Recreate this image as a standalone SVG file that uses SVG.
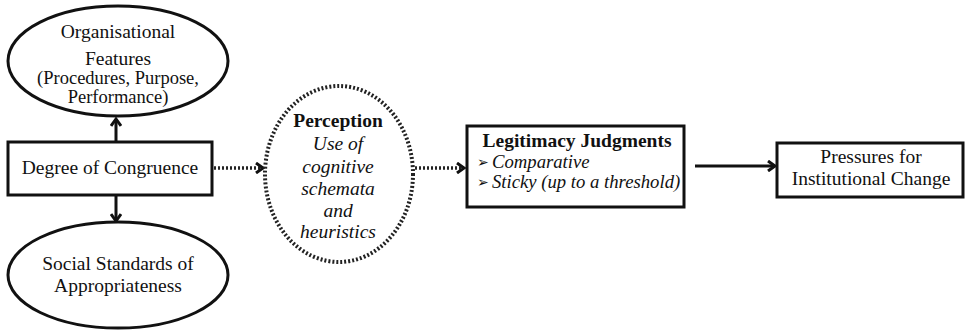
<svg xmlns="http://www.w3.org/2000/svg" width="966" height="331" viewBox="0 0 966 331">
<defs>
<marker id="arr" markerWidth="12" markerHeight="12" refX="9" refY="6" orient="auto" markerUnits="userSpaceOnUse">
<path d="M2,1 L9,6 L2,11" fill="none" stroke="#111" stroke-width="3" stroke-linejoin="miter"/>
</marker>
</defs>
<style>
text{font-family:"Liberation Serif","Times New Roman",serif;fill:#111;text-anchor:middle;font-size:19.5px}
.sm{font-size:18.5px}
.it{font-style:italic}
.b{font-weight:bold}
.li{font-style:italic;font-size:18.7px;text-anchor:start}
.shape{fill:#fff;stroke:#111;stroke-width:3}
.dot{fill:#fff;stroke:#222;stroke-width:4;stroke-dasharray:2 2}
.con{fill:none;stroke:#111;stroke-width:3}
.dcon{fill:none;stroke:#222;stroke-width:3.5;stroke-dasharray:2 2}
.bul{font-family:"DejaVu Sans",sans-serif;font-size:14px;text-anchor:start}
</style>
<g id="connectors">
<line class="con" x1="116" y1="141" x2="116" y2="119" marker-end="url(#arr)"/>
<line class="con" x1="116" y1="196" x2="116" y2="221" marker-end="url(#arr)"/>
<line class="dcon" x1="214" y1="168" x2="263" y2="168" marker-end="url(#arr)"/>
<line class="dcon" x1="415" y1="168" x2="464" y2="168" marker-end="url(#arr)"/>
<line class="con" x1="695" y1="166" x2="775" y2="166" marker-end="url(#arr)"/>
</g>
<g id="organisational-features">
<ellipse class="shape" cx="118" cy="61" rx="110" ry="55"/>
<text x="118" y="38">Organisational</text>
<text x="118" y="65">Features</text>
<text class="sm" x="118" y="84">(Procedures, Purpose,</text>
<text class="sm" x="118" y="103">Performance)</text>
</g>
<g id="degree-of-congruence">
<rect class="shape" x="8" y="142" width="204" height="53"/>
<text x="110" y="174">Degree of Congruence</text>
</g>
<g id="social-standards">
<ellipse class="shape" cx="118" cy="275" rx="110" ry="53"/>
<text x="118" y="270">Social Standards of</text>
<text x="118" y="292">Appropriateness</text>
</g>
<g id="perception">
<ellipse class="dot" cx="339" cy="174" rx="74" ry="88"/>
<text class="b" x="338" y="127">Perception</text>
<text class="it" x="338" y="150">Use of</text>
<text class="it" x="338" y="173">cognitive</text>
<text class="it" x="338" y="195">schemata</text>
<text class="it" x="338" y="217">and</text>
<text class="it" x="338" y="238">heuristics</text>
</g>
<g id="legitimacy-judgments">
<rect class="shape" x="467" y="126" width="217" height="81"/>
<text class="b" x="577" y="147">Legitimacy Judgments</text>
<text class="bul" x="477" y="167">➢</text>
<text class="li" x="492" y="168">Comparative</text>
<text class="bul" x="477" y="187">➢</text>
<text class="li" x="492" y="188">Sticky (up to a threshold)</text>
</g>
<g id="pressures">
<rect class="shape" x="777" y="143" width="186" height="54"/>
<text x="871" y="163">Pressures for</text>
<text x="871" y="185">Institutional Change</text>
</g>
</svg>
